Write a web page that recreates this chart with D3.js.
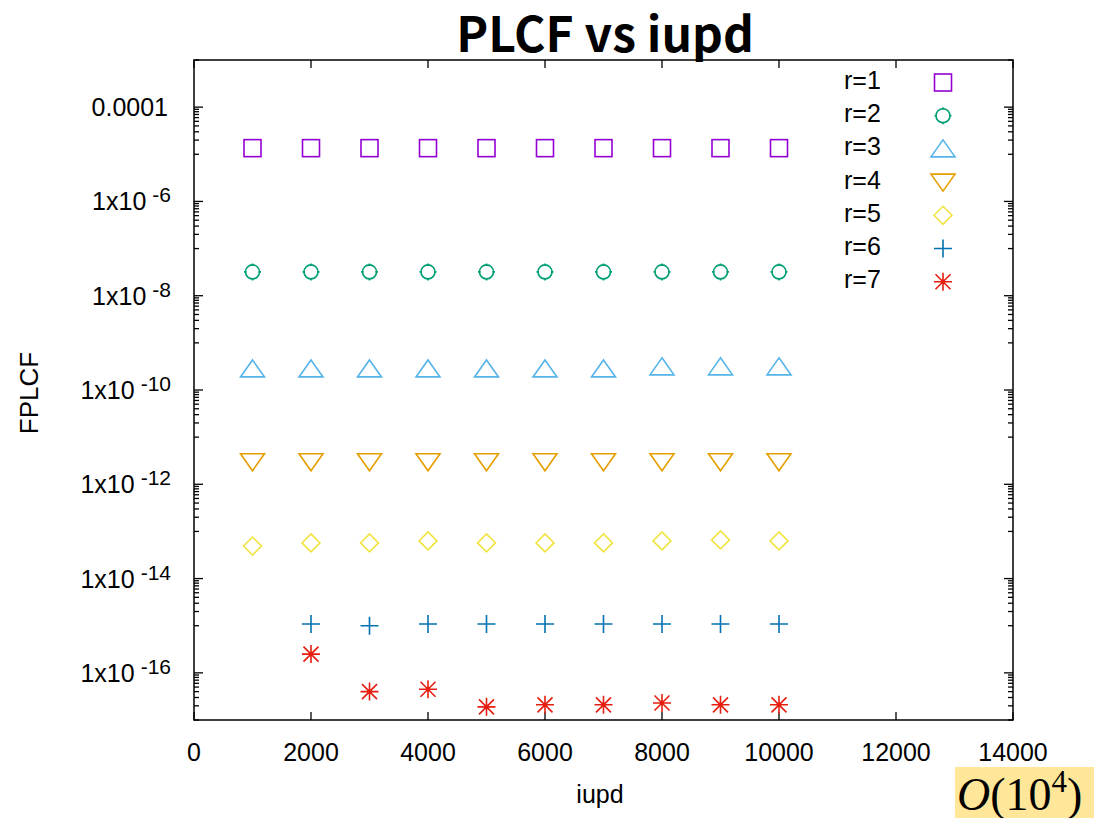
<!DOCTYPE html>
<html>
<head>
<meta charset="utf-8">
<script src="https://cdn.jsdelivr.net/npm/d3@7"></script>
<style>
  body { margin: 0; background: #fff; }
  text { font-family: "Liberation Sans", Arial, sans-serif; fill: #000; }
</style>
</head>
<body>
<div id="chart"></div>
<script>
// data
var iupd = [1000, 2000, 3000, 4000, 5000, 6000, 7000, 8000, 9000, 10000];
var r1 = [1.35e-5, 1.35e-5, 1.35e-5, 1.35e-5, 1.35e-5, 1.35e-5, 1.35e-5, 1.35e-5, 1.35e-5, 1.35e-5];
var r2 = [3.2e-8, 3.2e-8, 3.2e-8, 3.2e-8, 3.2e-8, 3.2e-8, 3.2e-8, 3.2e-8, 3.2e-8, 3.2e-8];
var r3 = [2.8e-10, 2.8e-10, 2.8e-10, 2.8e-10, 2.8e-10, 2.8e-10, 2.8e-10, 3.1e-10, 3.1e-10, 3.1e-10];
var r4 = [3.0e-12, 3.0e-12, 3.0e-12, 3.0e-12, 3.0e-12, 3.0e-12, 3.0e-12, 3.0e-12, 3.0e-12, 3.0e-12];
var r5 = [4.9e-14, 5.7e-14, 5.7e-14, 6.3e-14, 5.7e-14, 5.7e-14, 5.7e-14, 6.3e-14, 6.6e-14, 6.3e-14];
var r6 = [null, 1.09e-15, 1.0e-15, 1.09e-15, 1.09e-15, 1.09e-15, 1.09e-15, 1.09e-15, 1.09e-15, 1.09e-15];
var r7 = [null, 2.5e-16, 4.0e-17, 4.5e-17, 1.9e-17, 2.1e-17, 2.1e-17, 2.3e-17, 2.1e-17, 2.1e-17];
var seriesNames = ["r=1", "r=2", "r=3", "r=4", "r=5", "r=6", "r=7"];
var xTicks = [0, 2000, 4000, 6000, 8000, 10000, 12000, 14000];
var yTicks = [1e-4, 1e-6, 1e-8, 1e-10, 1e-12, 1e-14, 1e-16];

var colors = ["#9400d3", "#009e73", "#56b4e9", "#e69f00", "#f0e442", "#0072b2", "#e51e10"];
var shapes = ["square", "circle", "tri", "itri", "diamond", "plus", "star"];
var allSeries = [r1, r2, r3, r4, r5, r6, r7];

var W = 1094, H = 818;
var pLeft = 194, pRight = 1013, pTop = 60, pBottom = 720;

var svg = d3.select("#chart").append("svg").attr("width", W).attr("height", H);

var x = d3.scaleLinear().domain([0, 14000]).range([pLeft, pRight]);
var y = d3.scaleLog().domain([1e-17, 1e-3]).range([pBottom, pTop]);

// title
svg.append("text")
  .attr("x", 605).attr("y", 52)
  .attr("text-anchor", "middle")
  .style("font-family", "'Noto Sans CJK JP', 'Noto Sans', sans-serif")
  .style("font-weight", "bold")
  .style("font-size", "48px")
  .text("PLCF vs iupd");

// minor ticks: k*10^(e+1) between majors 10^e and 10^(e+2)
var minor = [];
for (var e = -18; e <= -4; e += 2) {
  for (var k = 1; k <= 9; k++) {
    var v = k * Math.pow(10, e + 1);
    if (v >= 1e-17 && v <= 1e-3) minor.push(v);
  }
}

var g = svg.append("g");
// y ticks left & right
minor.forEach(function(v) {
  g.append("line").attr("x1", pLeft).attr("x2", pLeft + 5).attr("y1", y(v)).attr("y2", y(v));
  g.append("line").attr("x1", pRight).attr("x2", pRight - 5).attr("y1", y(v)).attr("y2", y(v));
});
yTicks.forEach(function(v) {
  g.append("line").attr("x1", pLeft).attr("x2", pLeft + 9).attr("y1", y(v)).attr("y2", y(v));
  g.append("line").attr("x1", pRight).attr("x2", pRight - 9).attr("y1", y(v)).attr("y2", y(v));
});
// x ticks bottom & top
xTicks.forEach(function(v) {
  g.append("line").attr("x1", x(v)).attr("x2", x(v)).attr("y1", pBottom).attr("y2", pBottom - 8);
  g.append("line").attr("x1", x(v)).attr("x2", x(v)).attr("y1", pTop).attr("y2", pTop + 8);
});
g.selectAll("line").attr("stroke", "#000").attr("stroke-width", 1.3);

// border
svg.append("rect")
  .attr("x", pLeft).attr("y", pTop)
  .attr("width", pRight - pLeft).attr("height", pBottom - pTop)
  .attr("fill", "none").attr("stroke", "#000").attr("stroke-width", 1.5);

// y labels
yTicks.forEach(function(v) {
  var e = Math.round(Math.log10(v));
  var t = svg.append("text")
    .attr("x", 171).attr("y", y(v) + 9)
    .attr("text-anchor", "end")
    .style("font-size", "25px");
  if (e === -4) {
    t.attr("x", 168).text("0.0001");
  } else {
    t.append("tspan").text("1x10");
    t.append("tspan").attr("dx", 6).attr("dy", -8).style("font-size", "21px").text(e);
  }
});

// x labels
xTicks.forEach(function(v) {
  svg.append("text")
    .attr("x", x(v)).attr("y", 761)
    .attr("text-anchor", "middle")
    .style("font-size", "25px")
    .text(v);
});

svg.append("text")
  .attr("x", 600).attr("y", 803)
  .attr("text-anchor", "middle")
  .style("font-size", "25px")
  .text("iupd");

svg.append("text")
  .attr("transform", "translate(38,393) rotate(-90)")
  .attr("text-anchor", "middle")
  .style("font-size", "26px")
  .text("FPLCF");

function marker(sel, shape, color) {
  var s = 8.5;
  if (shape === "square") {
    sel.append("rect").attr("x", -s).attr("y", -s).attr("width", 2 * s).attr("height", 2 * s);
  } else if (shape === "circle") {
    sel.append("circle").attr("r", 7);
    sel.append("path").attr("d", "M-8.5,0H-6M6,0H8.5M0,-8.5V-6M0,6V8.5");
  } else if (shape === "tri") {
    sel.append("path").attr("d", "M0,-9L12,8H-12Z");
  } else if (shape === "itri") {
    sel.append("path").attr("d", "M0,9L12,-8H-12Z");
  } else if (shape === "diamond") {
    sel.append("path").attr("d", "M0,-9L9,0L0,9L-9,0Z");
  } else if (shape === "plus") {
    sel.append("path").attr("d", "M-9,0H9M0,-9V9");
  } else if (shape === "star") {
    sel.append("path").attr("d", "M-9,0H9M0,-9V9M-7.5,-7.5L7.5,7.5M-7.5,7.5L7.5,-7.5");
  }
  sel.selectAll("rect,path,circle")
    .attr("fill", "none").attr("stroke", color).attr("stroke-width", 1.6);
  if (shape === "star") {
    sel.append("circle").attr("r", 2.2).attr("fill", color);
  }
}

// points
allSeries.forEach(function(vals, i) {
  var pts = iupd.map(function(d, j) { return { x: d, v: vals[j] }; })
    .filter(function(d) { return d.v != null; });
  svg.append("g").selectAll("g")
    .data(pts)
    .enter().append("g")
    .attr("transform", function(d) { return "translate(" + x(d.x) + "," + y(d.v) + ")"; })
    .each(function() { marker(d3.select(this), shapes[i], colors[i]); });
});

// legend
seriesNames.forEach(function(name, i) {
  var by = 89 + i * 33.2;
  svg.append("text")
    .attr("x", 844).attr("y", by)
    .style("font-size", "25px")
    .text(name);
  var m = svg.append("g").attr("transform", "translate(943," + (by - 6.5) + ")");
  marker(m, shapes[i], colors[i]);
});

// O(10^4) note
svg.append("rect")
  .attr("x", 955).attr("y", 767).attr("width", W - 955).attr("height", H - 767)
  .attr("fill", "#ffe699");
var o = svg.append("text")
  .attr("x", 957).attr("y", 810)
  .style("font-family", "'Liberation Serif', 'DejaVu Serif', serif")
  .style("font-size", "46px");
o.append("tspan").style("font-style", "italic").text("O");
o.append("tspan").text("(10");
o.append("tspan").attr("dy", -18).style("font-size", "31px").text("4");
o.append("tspan").attr("dy", 18).text(")");
</script>
</body>
</html>
